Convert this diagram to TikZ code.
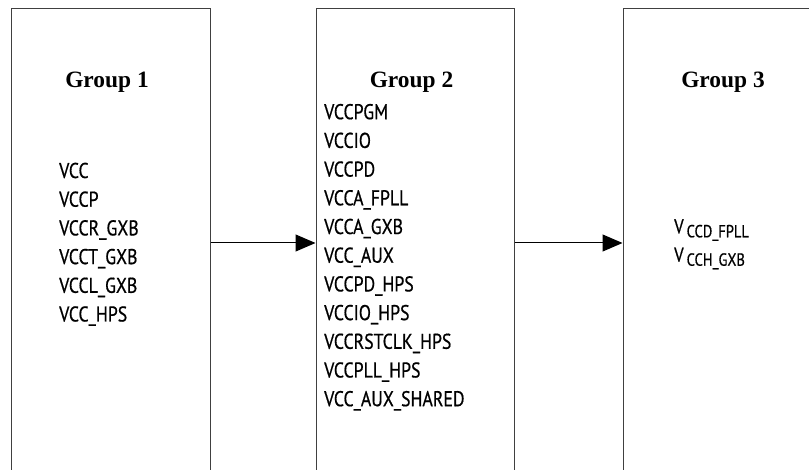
\documentclass[tikz,border=0pt]{standalone}
\usepackage{fontspec}
\setmainfont{Liberation Serif}
\newfontfamily\condsans[FakeStretch=0.83,FakeBold=0.6]{PT Sans}
\usetikzlibrary{arrows.meta}
\begin{document}
\begin{tikzpicture}[x=1bp,y=-1bp,
  grp/.style={draw=black!75, line width=1bp, minimum width=198bp, minimum height=468bp, inner sep=0pt},
  title/.style={font=\bfseries\fontsize{23.4bp}{28bp}\selectfont, anchor=base, inner sep=0pt},
  item/.style={font=\condsans\fontsize{21.4bp}{28.7bp}\selectfont, anchor=base west, inner sep=0pt},
  sub/.style={font=\condsans\fontsize{20bp}{28.7bp}\selectfont, anchor=base west, inner sep=0pt},
  arr/.style={-{Triangle[length=20bp,width=17bp]}, line width=1bp}]
\useasboundingbox (0,0) rectangle (809,470);
\node[grp] (box1) at (111,243) {};
\node[grp] (box2) at (415,243) {};
\node[grp, minimum width=200bp] (box3) at (723,243) {};
\node[title] (t1) at (107,87.5) {Group 1};
\node[title] (t2) at (411.5,87.5) {Group 2};
\node[title] (t3) at (723,87.5) {Group 3};
\foreach \t [count=\i] in {VCC,VCCP,VCCR\_GXB,VCCT\_GXB,VCCL\_GXB,VCC\_HPS}
  \node[item] (a\i) at (59,{178+(\i-1)*28.7}) {\t};
\foreach \t [count=\i] in {VCCPGM,VCCIO,VCCPD,VCCA\_FPLL,VCCA\_GXB,VCC\_AUX,VCCPD\_HPS,VCCIO\_HPS,VCCRSTCLK\_HPS,VCCPLL\_HPS,VCC\_AUX\_SHARED}
  \node[item] (b\i) at (324,{119.2+(\i-1)*28.7}) {\t};
\node[sub] (c1) at (674,233.3) {V\kern3bp\raisebox{-4bp}{\fontsize{17.5bp}{20bp}\selectfont CCD\_FPLL}};
\node[sub] (c2) at (674,261.7) {V\kern3bp\raisebox{-4bp}{\fontsize{17.5bp}{20bp}\selectfont CCH\_GXB}};
\draw[arr] (box1.east) -- (box2.west);
\draw[arr] (box2.east) -- (box3.west);
\end{tikzpicture}
\end{document}
